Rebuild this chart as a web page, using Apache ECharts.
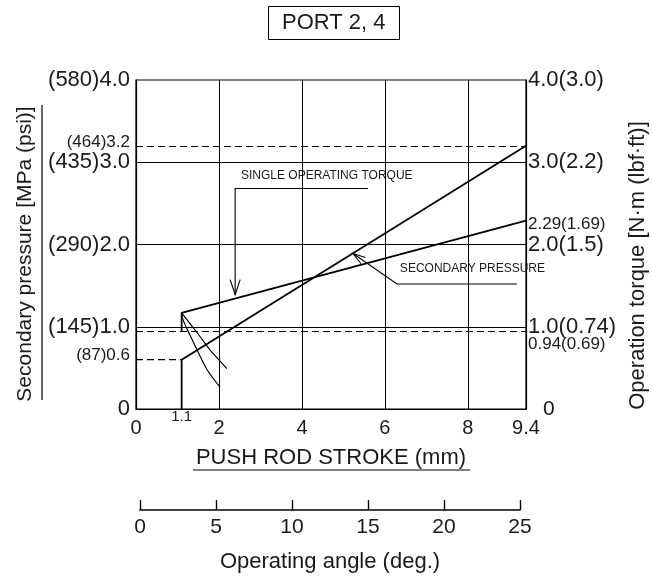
<!DOCTYPE html>
<html>
<head>
<meta charset="utf-8">
<script src="https://cdn.jsdelivr.net/npm/echarts@6/dist/echarts.min.js"></script>
<style>
html,body{margin:0;padding:0;background:#fff;}
#chart{width:652px;height:579px;}
</style>
</head>
<body>
<div id="chart"></div>
<script>
// ---------- data ----------
var strokeTickValues = [0, 1.1, 2, 4, 6, 8, 9.4];
var strokeTickLabels = ['0', '1.1', '2', '4', '6', '8', '9.4'];
var strokeTickSmall  = [false, true, false, false, false, false, false];

var pressTickValues = [0, 0.6, 1.0, 2.0, 3.0, 3.2, 4.0];
var pressTickLabels = ['0', '(87)0.6', '(145)1.0', '(290)2.0', '(435)3.0', '(464)3.2', '(580)4.0'];
var pressTickStyle  = ['n', 'sl', 'n', 'n', 'n', 'sh', 'n'];

var torqueTickValues = [0, 0.94, 1.0, 2.0, 2.29, 3.0, 4.0];
var torqueTickLabels = ['0', '0.94(0.69)', '1.0(0.74)', '2.0(1.5)', '2.29(1.69)', '3.0(2.2)', '4.0(3.0)'];
var torqueTickStyle  = ['z', 'sd', 'n', 'n', 'sa', 'n', 'n'];

var angleMin = 0, angleMax = 25, angleStep = 5;

// secondary pressure (MPa) vs push rod stroke (mm)
var pressurePreX = [0, 1.1];
var pressurePreY = [0.6, 0.6];
var pressureX = [1.1, 1.1, 9.4];
var pressureY = [0, 0.6, 3.2];

// operation torque (N·m) vs stroke
var torqueX = [1.1, 1.1, 9.4];
var torqueY = [0.94, 1.17, 2.29];

// torque fall-off curves after the jump
var dropAX = [1.1, 1.47, 1.78, 2.19];
var dropAY = [1.17, 0.93, 0.72, 0.49];
var dropBX = [1.1, 1.13, 1.30, 1.49, 1.71, 2.02];
var dropBY = [1.17, 1.09, 0.90, 0.70, 0.48, 0.27];

// reference lines
var solidHLines = [1, 2, 3];
var dashedHLines = [0.94, 3.2];
var solidVLines = [2, 4, 6, 8];

// ---------- helpers ----------
function zip(xs, ys) { return xs.map(function (x, i) { return [x, ys[i]]; }); }
function findIdx(arr, v) {
  for (var i = 0; i < arr.length; i++) if (Math.abs(arr[i] - v) < 1e-6) return i;
  return -1;
}
var FONT = "'Liberation Sans', Arial, Helvetica, sans-serif";
var INK = '#1a1a1a';

var chart = echarts.init(document.getElementById('chart'), null, {renderer: 'canvas'});

var markLines = [];
solidHLines.forEach(function (v) { markLines.push({yAxis: v, lineStyle: {type: 'solid', width: 1}}); });
dashedHLines.forEach(function (v) { markLines.push({yAxis: v, lineStyle: {type: [7, 4], width: 1.2}}); });
solidVLines.forEach(function (v) { markLines.push({xAxis: v, lineStyle: {type: 'solid', width: 1}}); });

var option = {
  backgroundColor: '#fff',
  animation: false,
  title: {
    text: 'PORT 2, 4',
    left: 268, top: 6,
    padding: [6, 14],
    borderColor: '#000', borderWidth: 1,
    textStyle: {fontFamily: FONT, fontSize: 22, fontWeight: 'normal', color: INK, lineHeight: 22}
  },
  grid: [
    {left: 136, right: 126, top: 80, bottom: 170, show: true, borderColor: '#000', borderWidth: 1.2, backgroundColor: 'transparent', containLabel: false, outerBoundsMode: 'none'},
    {left: 140, right: 132, top: 500, height: 10, show: false, containLabel: false, outerBoundsMode: 'none'}
  ],
  xAxis: [
    {
      type: 'value', gridIndex: 0, min: 0, max: 9.4,
      name: 'PUSH ROD STROKE (mm)', nameLocation: 'middle', nameGap: 38,
      nameTextStyle: {fontFamily: FONT, fontSize: 22, color: INK},
      axisLine: {show: true, lineStyle: {color: '#000', width: 1.2}},
      axisTick: {show: false},
      splitLine: {show: false},
      axisLabel: {
        customValues: strokeTickValues, margin: 0, color: INK, fontFamily: FONT,
        formatter: function (v) {
          var i = findIdx(strokeTickValues, v);
          if (i < 0) return '';
          return '{' + (strokeTickSmall[i] ? 's' : 'n') + '|' + strokeTickLabels[i] + '}';
        },
        rich: {
          n: {fontFamily: FONT, fontSize: 20, color: INK, padding: [9, 0, 0, 0]},
          s: {fontFamily: FONT, fontSize: 15, color: INK, padding: [0, 0, 0, 0]}
        }
      }
    },
    {
      type: 'value', gridIndex: 1, min: angleMin, max: angleMax, interval: angleStep,
      position: 'bottom',
      name: 'Operating angle (deg.)', nameLocation: 'middle', nameGap: 41,
      nameTextStyle: {fontFamily: FONT, fontSize: 22, color: INK},
      axisLine: {show: true, onZero: false, lineStyle: {color: '#000', width: 1.6}},
      axisTick: {show: true, inside: true, length: 10, lineStyle: {color: '#000', width: 1.4}},
      splitLine: {show: false},
      axisLabel: {margin: 7, fontFamily: FONT, fontSize: 21, color: INK}
    }
  ],
  yAxis: [
    {
      type: 'value', gridIndex: 0, min: 0, max: 4, position: 'left',
      name: 'Secondary pressure [MPa (psi)]', nameLocation: 'middle', nameRotate: 90, nameGap: 100,
      nameTextStyle: {fontFamily: FONT, fontSize: 21, color: INK, padding: [0, 19, 0, 0]},
      axisLine: {show: true, lineStyle: {color: '#000', width: 1.2}},
      axisTick: {show: false},
      splitLine: {show: false},
      axisLabel: {
        customValues: pressTickValues, margin: 6, color: INK, fontFamily: FONT,
        formatter: function (v) {
          var i = findIdx(pressTickValues, v);
          if (i < 0) return '';
          return '{' + pressTickStyle[i] + '|' + pressTickLabels[i] + '}';
        },
        rich: {
          n: {fontFamily: FONT, fontSize: 22, color: INK},
          sl: {fontFamily: FONT, fontSize: 17, color: INK, padding: [0, 0, 8, 0]},
          sh: {fontFamily: FONT, fontSize: 17, color: INK, padding: [0, 0, 6, 0]}
        }
      }
    },
    {
      type: 'value', gridIndex: 0, min: 0, max: 4, position: 'right',
      name: 'Operation torque [N·m (lbf·ft)]', nameLocation: 'middle', nameRotate: 90, nameGap: 83,
      nameTextStyle: {fontFamily: FONT, fontSize: 22, color: INK, padding: [0, 42, 0, 0]},
      axisLine: {show: true, lineStyle: {color: '#000', width: 1.2}},
      axisTick: {show: false},
      splitLine: {show: false},
      axisLabel: {
        customValues: torqueTickValues, margin: 2, color: INK, fontFamily: FONT,
        formatter: function (v) {
          var i = findIdx(torqueTickValues, v);
          if (i < 0) return '';
          return '{' + torqueTickStyle[i] + '|' + torqueTickLabels[i] + '}';
        },
        rich: {
          n: {fontFamily: FONT, fontSize: 22, color: INK},
          z: {fontFamily: FONT, fontSize: 21, color: INK, padding: [0, 0, 0, 15]},
          sd: {fontFamily: FONT, fontSize: 17, color: INK, padding: [26, 0, 0, 0]},
          sa: {fontFamily: FONT, fontSize: 17, color: INK, padding: [8, 0, 0, 0]}
        }
      }
    },
    {type: 'value', gridIndex: 1, min: 0, max: 1, show: false}
  ],
  series: [
    {
      type: 'line', xAxisIndex: 0, yAxisIndex: 0, data: [], symbol: 'none', silent: true,
      markLine: {silent: true, symbol: 'none', label: {show: false}, lineStyle: {color: '#000'}, data: markLines}
    },
    {type: 'line', xAxisIndex: 0, yAxisIndex: 0, data: zip(pressurePreX, pressurePreY), symbol: 'none', silent: true,
     lineStyle: {color: '#000', width: 1.4, type: [7, 4]}},
    {type: 'line', xAxisIndex: 0, yAxisIndex: 0, data: zip(pressureX, pressureY), symbol: 'none', silent: true,
     lineStyle: {color: '#000', width: 1.8}},
    {type: 'line', xAxisIndex: 0, yAxisIndex: 1, data: zip(torqueX, torqueY), symbol: 'none', silent: true,
     lineStyle: {color: '#000', width: 1.8}},
    {type: 'line', xAxisIndex: 0, yAxisIndex: 1, data: zip(dropAX, dropAY), symbol: 'none', silent: true,
     lineStyle: {color: '#000', width: 1.2}},
    {type: 'line', xAxisIndex: 0, yAxisIndex: 1, data: zip(dropBX, dropBY), symbol: 'none', silent: true, smooth: 0.4,
     lineStyle: {color: '#000', width: 1.2}}
  ]
};
chart.setOption(option);

// ---------- annotations (anchored in data space) ----------
function px(p) { return chart.convertToPixel({xAxisIndex: 0, yAxisIndex: 0}, p); }
var tA = {text: [2.53, 2.83], start: [5.59, 2.68], corner: [2.39, 2.68], tip: [2.39, 1.39]};
var pA = {text: [6.36, 1.695], tip: [5.23, 1.89], corner: [6.29, 1.52], end: [9.18, 1.52]};

var t0 = px(tA.text), t1 = px(tA.start), t2 = px(tA.corner), t3 = px(tA.tip);
var p0 = px(pA.text), p1 = px(pA.tip), p2 = px(pA.corner), p3 = px(pA.end);
var dx = p2[0] - p1[0], dy = p2[1] - p1[1], L = Math.sqrt(dx * dx + dy * dy);
var ux = dx / L, uy = dy / L, al = 13, ang = 0.3;
function rot(x, y, a) { return [x * Math.cos(a) - y * Math.sin(a), x * Math.sin(a) + y * Math.cos(a)]; }
var r1 = rot(ux, uy, ang), r2 = rot(ux, uy, -ang);

// underline positions from axis layout
var xAxisMidPx = (px([0, 0])[0] + px([9.4, 0])[0]) / 2;
var basePx = px([0, 0])[1];

chart.setOption({
  graphic: [
    {type: 'text', left: t0[0], top: t0[1] - 7, silent: true,
     style: {text: 'SINGLE OPERATING TORQUE', font: '12px ' + FONT, fill: INK}},
    {type: 'polyline', silent: true, shape: {points: [t1, t2, t3]}, style: {stroke: '#000', lineWidth: 1.1, fill: null}},
    {type: 'polyline', silent: true, shape: {points: [[t3[0] - 5, t3[1] - 15], t3, [t3[0] + 5, t3[1] - 15]]}, style: {stroke: '#000', lineWidth: 1.1, fill: null}},
    {type: 'text', left: p0[0], top: p0[1] - 7, silent: true,
     style: {text: 'SECONDARY PRESSURE', font: '12px ' + FONT, fill: INK}},
    {type: 'polyline', silent: true, shape: {points: [p1, p2, p3]}, style: {stroke: '#000', lineWidth: 1.1, fill: null}},
    {type: 'polyline', silent: true, shape: {points: [[p1[0] + r1[0] * al, p1[1] + r1[1] * al], p1, [p1[0] + r2[0] * al, p1[1] + r2[1] * al]]}, style: {stroke: '#000', lineWidth: 1.1, fill: null}},
    // underline of x-axis title
    {type: 'line', silent: true, shape: {x1: xAxisMidPx - 138, y1: basePx + 61, x2: xAxisMidPx + 139, y2: basePx + 61}, style: {stroke: '#000', lineWidth: 1.2}},
    // underline of left axis title (rotated text)
    {type: 'line', silent: true, shape: {x1: 42, y1: 105, x2: 42, y2: 400}, style: {stroke: '#000', lineWidth: 1.2}}
  ]
});
</script>
</body>
</html>
